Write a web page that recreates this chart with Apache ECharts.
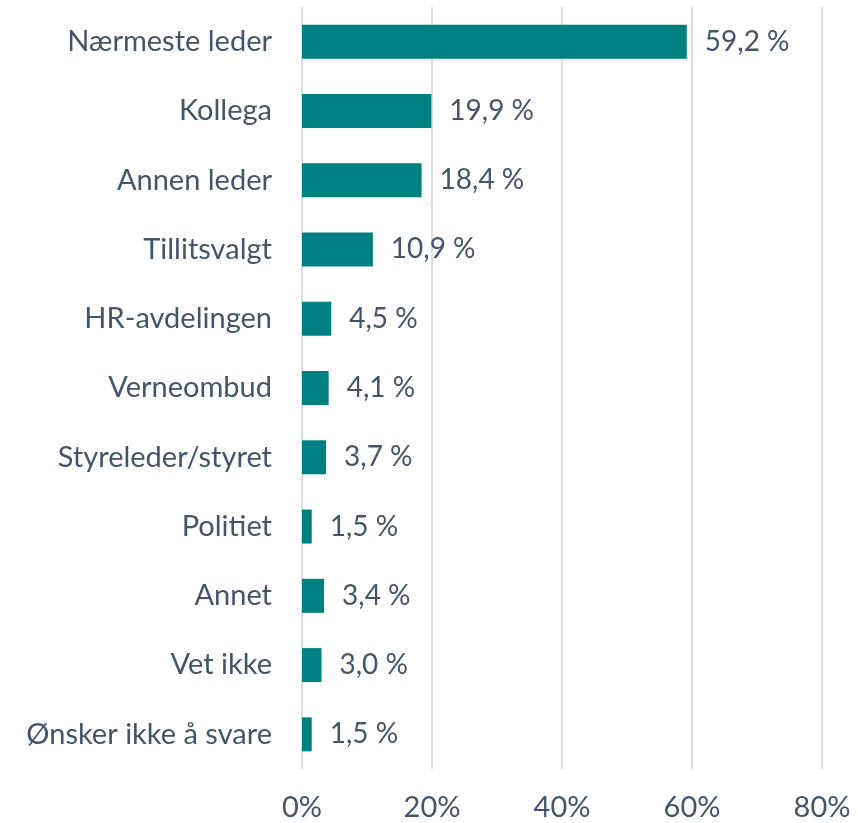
<!DOCTYPE html>
<html><head><meta charset="utf-8">
<script src="https://cdn.jsdelivr.net/npm/echarts@6/dist/echarts.min.js"></script>
<style>html,body{margin:0;padding:0;background:#fff}#c{width:858px;height:823px}</style>
</head><body><div id="c"></div>
<script>
const categories = ["Nærmeste leder","Kollega","Annen leder","Tillitsvalgt","HR-avdelingen","Verneombud","Styreleder/styret","Politiet","Annet","Vet ikke","Ønsker ikke å svare"];
const values = [59.2,19.9,18.4,10.9,4.5,4.1,3.7,1.5,3.4,3.0,1.5];
const axisTicks = [0,20,40,60,80];

const chart = echarts.init(document.getElementById('c'), null, {renderer:'canvas'});
const txt = '#44546A';
const font = 'Lato, "Open Sans", sans-serif';
chart.setOption({
  animation:false,
  grid:{left:302,right:36,top:7,bottom:54,containLabel:false},
  xAxis:{type:'value',min:axisTicks[0],max:axisTicks[axisTicks.length-1],interval:20,
    axisLine:{show:false},axisTick:{show:false},
    splitLine:{lineStyle:{color:'#D9DEE4',width:2}},
    axisLabel:{formatter:v=>v+'%',color:txt,fontSize:29,fontFamily:font,margin:24}},
  yAxis:{type:'category',data:categories,inverse:true,
    axisLine:{show:false},axisTick:{show:false},
    axisLabel:{color:txt,fontSize:29,fontFamily:font,margin:30}},
  series:[{type:'bar',data:values,barWidth:34,
    itemStyle:{color:'#008080'},
    label:{show:true,position:'right',distance:18,color:txt,fontSize:28,fontFamily:font,
      formatter:p=>p.value.toFixed(1).replace('.',',')+' %'}}]
});
</script></body></html>
